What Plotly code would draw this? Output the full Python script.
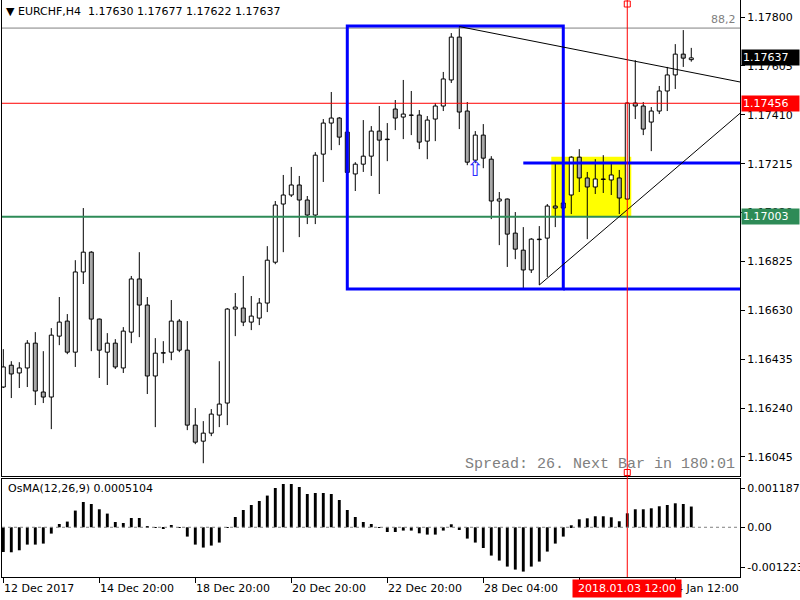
import plotly.graph_objects as go

# ---------------- data (EURCHF, H4) ----------------
open_ = [1.16324,1.16411,1.16380,1.16400,1.16499,1.16304,1.16284,1.16527,1.16587,1.16463,
         1.16783,1.16862,1.16595,1.16463,1.16499,1.16400,1.16543,1.16755,1.16651,1.16368,
         1.16459,1.16463,1.16587,1.16471,1.16172,1.16108,1.16140,1.16212,1.16260,1.16635,
         1.16639,1.16583,1.16599,1.16659,1.16822,1.17054,1.17090,1.17130,1.17070,1.17010,
         1.17253,1.17377,1.17397,1.17341,1.17174,1.17213,1.17245,1.17345,1.17313,1.17433,
         1.17401,1.17409,1.17409,1.17305,1.17393,1.17445,1.17549,1.17720,1.17425,1.17229,
         1.17329,1.17233,1.17066,1.17074,1.16938,1.16870,1.16791,1.16914,1.16918,1.17046,
         1.17038,1.17090,1.17241,1.17158,1.17122,1.17154,1.17150,1.17158,1.17074,1.17457,
         1.17445,1.17381,1.17425,1.17505,1.17569,1.17652,1.17630]
high = [1.16475,1.16427,1.16423,1.16511,1.16543,1.16467,1.16559,1.16683,1.16615,1.16830,
        1.17038,1.16866,1.16597,1.16539,1.16515,1.16563,1.16767,1.16862,1.16683,1.16519,
        1.16507,1.16671,1.16595,1.16587,1.16240,1.16188,1.16236,1.16427,1.16639,1.16699,
        1.16767,1.16687,1.16679,1.16886,1.17066,1.17170,1.17202,1.17166,1.17086,1.17261,
        1.17393,1.17501,1.17401,1.17345,1.17221,1.17389,1.17365,1.17445,1.17377,1.17469,
        1.17549,1.17505,1.17429,1.17405,1.17457,1.17581,1.17736,1.17764,1.17461,1.17345,
        1.17373,1.17245,1.17102,1.17076,1.17022,1.16962,1.16918,1.16966,1.17054,1.17217,
        1.17070,1.17245,1.17273,1.17182,1.17233,1.17249,1.17217,1.17190,1.17461,1.17628,
        1.17461,1.17441,1.17525,1.17601,1.17692,1.17748,1.17677]
low = [1.16320,1.16280,1.16320,1.16324,1.16252,1.16260,1.16156,1.16491,1.16455,1.16404,
       1.16735,1.16467,1.16360,1.16332,1.16396,1.16380,1.16499,1.16523,1.16296,1.16164,
       1.16419,1.16431,1.16463,1.16152,1.16096,1.16020,1.16128,1.16164,1.16172,1.16527,
       1.16567,1.16551,1.16571,1.16623,1.16814,1.16862,1.17082,1.16922,1.16974,1.16974,
       1.17142,1.17269,1.17289,1.17176,1.17106,1.17182,1.17166,1.17094,1.17225,1.17349,
       1.17313,1.17329,1.17273,1.17233,1.17305,1.17425,1.17537,1.17353,1.17209,1.17217,
       1.17197,1.16994,1.16890,1.16803,1.16834,1.16715,1.16779,1.16731,1.16763,1.16962,
       1.17010,1.17014,1.17102,1.16914,1.17094,1.17098,1.17090,1.17014,1.17070,1.17393,
       1.17329,1.17265,1.17413,1.17425,1.17513,1.17601,1.17622]
close = [1.16404,1.16376,1.16400,1.16499,1.16308,1.16284,1.16531,1.16583,1.16463,1.16783,
         1.16862,1.16595,1.16471,1.16499,1.16404,1.16547,1.16755,1.16651,1.16368,1.16459,
         1.16461,1.16587,1.16471,1.16172,1.16104,1.16140,1.16216,1.16256,1.16635,1.16643,
         1.16583,1.16607,1.16659,1.16830,1.17050,1.17090,1.17130,1.17070,1.17010,1.17249,
         1.17377,1.17397,1.17321,1.17180,1.17213,1.17245,1.17345,1.17309,1.17311,1.17397,
         1.17413,1.17408,1.17301,1.17389,1.17445,1.17553,1.17720,1.17421,1.17221,1.17329,
         1.17237,1.17066,1.17074,1.16934,1.16874,1.16791,1.16914,1.16912,1.17046,1.17038,
         1.17058,1.17241,1.17158,1.17122,1.17154,1.17152,1.17170,1.17078,1.17457,1.17445,
         1.17353,1.17425,1.17505,1.17569,1.17652,1.17636,1.17637]
osma = [-0.000608,-0.000615,-0.000566,-0.000426,-0.000426,-0.000401,-0.000155,0.000081,0.000140,0.000411,
        0.000622,0.000573,0.000443,0.000337,0.000130,0.000106,0.000229,0.000229,0.000032,-0.000017,
        -0.000032,0.000057,-0.000007,-0.000229,-0.000426,-0.000499,-0.000450,-0.000376,0.000005,0.000253,
        0.000426,0.000549,0.000647,0.000780,0.000967,0.001065,0.001065,0.000991,0.000819,0.000844,
        0.000844,0.000819,0.000672,0.000426,0.000253,0.000130,0.000081,-0.000017,-0.000116,-0.000116,
        -0.000081,-0.000081,-0.000148,-0.000180,-0.000180,-0.000081,0.000074,-0.000066,-0.000278,-0.000376,
        -0.000509,-0.000696,-0.000819,-0.000967,-0.001041,-0.001090,-0.000967,-0.000844,-0.000598,-0.000401,
        -0.000229,0.000049,0.000197,0.000221,0.000271,0.000271,0.000246,0.000148,0.000344,0.000443,
        0.000443,0.000467,0.000517,0.000549,0.000590,0.000573,0.0005104]

price_ticks = [1.17800, 1.17605, 1.17410, 1.17215, 1.17020, 1.16825, 1.16630, 1.16435, 1.16240, 1.16045]
date_tick_idx = [0, 12, 24, 36, 48, 60, 72, 84]
date_tick_text = ["12 Dec 2017", "14 Dec 20:00", "18 Dec 20:00", "20 Dec 20:00",
                  "22 Dec 20:00", "28 Dec 04:00", "2 Jan 12:00", "4 Jan 12:00"]
osma_max, osma_min = 0.0011878, -0.001223

# drawn objects
red_level = 1.17456
green_level = 1.17003
blue_level = 1.17218
fib_level = 1.17756
box_idx = [43, 70]
blue_line_start = 65
yellow_idx = [69, 79]
yellow_prices = [1.17003, 1.17243]
down_trend = [(57, 1.17762), (92.09, 1.17541)]
up_trend = [(67, 1.16731), (92.09, 1.17416)]
vline_idx = 78
arrow_idx, arrow_price = 59, 1.17186
handle_prices = [1.17852, 1.15983]

n = len(open_)
idx = list(range(n))
x_range = [-0.1625, 92.09]
y_range = [1.15969, 1.17868]

FONT = "DejaVu Sans"
GRAY = "#a8a8a8"

fig = go.Figure()

# wicks (upper and lower parts, outside bodies)
wx, wy = [], []
for k in idx:
    top = max(open_[k], close[k]); bot = min(open_[k], close[k])
    wx += [k, k, None, k, k, None]
    wy += [high[k], top, None, bot, low[k], None]
fig.add_trace(go.Scatter(x=wx, y=wy, mode="lines", line=dict(color="black", width=1),
                         hoverinfo="skip", showlegend=False, xaxis="x", yaxis="y"))

# bodies
body_base = [min(o, c) for o, c in zip(open_, close)]
body_h = [max(abs(c - o), 0.000008) for o, c in zip(open_, close)]
body_col = ["white" if c >= o else GRAY for o, c in zip(open_, close)]
fig.add_trace(go.Bar(x=idx, y=body_h, base=body_base, width=0.5,
                     marker=dict(color=body_col, line=dict(color="black", width=1)),
                     showlegend=False, xaxis="x", yaxis="y"))

# OsMA histogram
fig.add_trace(go.Bar(x=list(range(len(osma))), y=osma, width=0.36,
                     marker=dict(color="black", line=dict(width=0)),
                     showlegend=False, xaxis="x2", yaxis="y2"))

# arrow marker
fig.add_trace(go.Scatter(x=[arrow_idx], y=[arrow_price], mode="text", text=["⇧"],
                         textfont=dict(family=FONT, size=21, color="#2a2aff"),
                         showlegend=False, xaxis="x", yaxis="y"))
# object handles on the vertical line
fig.add_trace(go.Scatter(x=[vline_idx, vline_idx], y=handle_prices, mode="markers",
                         marker=dict(symbol="square-open", size=6, color="red", line=dict(width=1)),
                         showlegend=False, xaxis="x", yaxis="y", cliponaxis=False))

shapes = []
# yellow zone
shapes.append(dict(type="rect", xref="x", yref="y", x0=yellow_idx[0] - 0.5, x1=yellow_idx[1] - 0.5,
                   y0=yellow_prices[0], y1=yellow_prices[1], fillcolor="#ffff00",
                   line=dict(width=0), layer="below"))
# fib level line
shapes.append(dict(type="line", xref="x", yref="y", x0=x_range[0], x1=x_range[1],
                   y0=fib_level, y1=fib_level, line=dict(color="#808080", width=1)))
# red / green levels
shapes.append(dict(type="line", xref="x", yref="y", x0=x_range[0], x1=x_range[1],
                   y0=red_level, y1=red_level, line=dict(color="#ff0000", width=1)))
shapes.append(dict(type="line", xref="x", yref="y", x0=x_range[0], x1=x_range[1],
                   y0=green_level, y1=green_level, line=dict(color="#2e8b57", width=2)))
# blue box
box_top = high[57]; box_bot = low[65]
shapes.append(dict(type="rect", xref="x", yref="y", x0=box_idx[0], x1=box_idx[1],
                   y0=box_bot, y1=box_top, line=dict(color="#0000ff", width=3)))
shapes.append(dict(type="line", xref="x", yref="y", x0=box_idx[1], x1=x_range[1],
                   y0=box_bot, y1=box_bot, line=dict(color="#0000ff", width=3)))
shapes.append(dict(type="line", xref="x", yref="y", x0=blue_line_start, x1=x_range[1],
                   y0=blue_level, y1=blue_level, line=dict(color="#0000ff", width=3)))
# trend lines
shapes.append(dict(type="line", xref="x", yref="y", x0=down_trend[0][0], y0=down_trend[0][1],
                   x1=down_trend[1][0], y1=down_trend[1][1], line=dict(color="black", width=1)))
shapes.append(dict(type="line", xref="x", yref="y", x0=up_trend[0][0], y0=up_trend[0][1],
                   x1=up_trend[1][0], y1=up_trend[1][1], line=dict(color="black", width=1)))
# vertical line across both panes
shapes.append(dict(type="line", xref="x", yref="paper", x0=vline_idx, x1=vline_idx, y0=0, y1=1,
                   line=dict(color="#ff0000", width=1)))
# OsMA zero line
shapes.append(dict(type="line", xref="x2", yref="y2", x0=x_range[0], x1=x_range[1], y0=0, y1=0,
                   line=dict(color="#808080", width=1, dash="3px,3px")))

ann = []
ann.append(dict(text="▼ EURCHF,H4  %.5f %.5f %.5f %.5f" % (open_[-1], high[-1], low[-1], close[-1]),
                xref="paper", yref="paper", x=0, y=1, xanchor="left", yanchor="top",
                xshift=2, yshift=-3, showarrow=False, font=dict(family=FONT, size=11, color="black")))
ann.append(dict(text="88,2", xref="paper", yref="y", x=1, y=fib_level, xanchor="right",
                yanchor="bottom", xshift=-2, yshift=0, showarrow=False,
                font=dict(family=FONT, size=11, color="#808080")))
ann.append(dict(text="Spread: 26. Next Bar in 180:01", xref="paper", yref="y domain", x=1, y=0,
                xanchor="right", yanchor="bottom", xshift=-3, yshift=1, showarrow=False,
                font=dict(family="Liberation Mono", size=15, color="#808080")))
ann.append(dict(text="OsMA(12,26,9) %.7f" % osma[-1], xref="paper", yref="y2 domain", x=0, y=1,
                xanchor="left", yanchor="top", xshift=4, yshift=-1, showarrow=False,
                font=dict(family=FONT, size=11, color="black")))
for val, bg in [(close[-1], "black"), (red_level, "#ff0000"), (green_level, "#2e8b57")]:
    ann.append(dict(text="%.5f" % val, xref="paper", yref="y", x=1, y=val, xanchor="left",
                    yanchor="middle", xshift=1, showarrow=False, bgcolor=bg, width=55, height=13,
                    align="left", borderpad=1, font=dict(family=FONT, size=11, color="white")))
for k, t in zip(date_tick_idx, date_tick_text):
    ann.append(dict(text=t, xref="x2", yref="paper", x=k, y=0, xanchor="left", yanchor="top",
                    xshift=-1, yshift=-3, showarrow=False,
                    font=dict(family=FONT, size=11, color="black")))
ann.append(dict(text="2018.01.03 12:00", xref="x2", yref="paper", x=vline_idx, y=0,
                xanchor="center", yanchor="top", yshift=-2, showarrow=False, bgcolor="#ff0000",
                width=106, height=15, borderpad=1,
                font=dict(family=FONT, size=11, color="white")))

fig.update_layout(
    width=800, height=600, margin=dict(l=2, r=60, t=0, b=23, autoexpand=False),
    paper_bgcolor="white", plot_bgcolor="white", showlegend=False,
    barmode="overlay", shapes=shapes, annotations=ann,
    xaxis=dict(domain=[0, 1], range=x_range, anchor="y", showgrid=False, zeroline=False,
               automargin=False,
               showticklabels=False, showline=True, linecolor="black", linewidth=1, ticks=""),
    yaxis=dict(domain=[101 / 577, 1], range=y_range, side="right", anchor="x", showgrid=False,
               automargin=False,
               zeroline=False, showline=True, mirror=True, linecolor="black", linewidth=1,
               ticks="outside", ticklen=4, tickcolor="black", tickvals=price_ticks,
               ticktext=["%.5f" % p for p in price_ticks],
               tickfont=dict(family=FONT, size=11, color="black")),
    xaxis2=dict(domain=[0, 1], range=x_range, anchor="y2", showgrid=False, zeroline=False,
                automargin=False,
                showticklabels=False, showline=True, mirror=True, linecolor="black", linewidth=1,
                ticks="outside", ticklen=5, tickcolor="black", tickvals=date_tick_idx),
    yaxis2=dict(domain=[0, 98 / 577], range=[osma_min, osma_max], side="right", anchor="x2",
                automargin=False,
                showgrid=False, zeroline=False, showline=True, mirror=True, linecolor="black",
                linewidth=1, ticks="outside", ticklen=4, tickcolor="black",
                tickvals=[0.000966, 0, -0.000982], ticktext=["0.0011878", "0.00", "-0.001223"],
                tickfont=dict(family=FONT, size=11, color="black")),
)

fig.write_html("out.html")
